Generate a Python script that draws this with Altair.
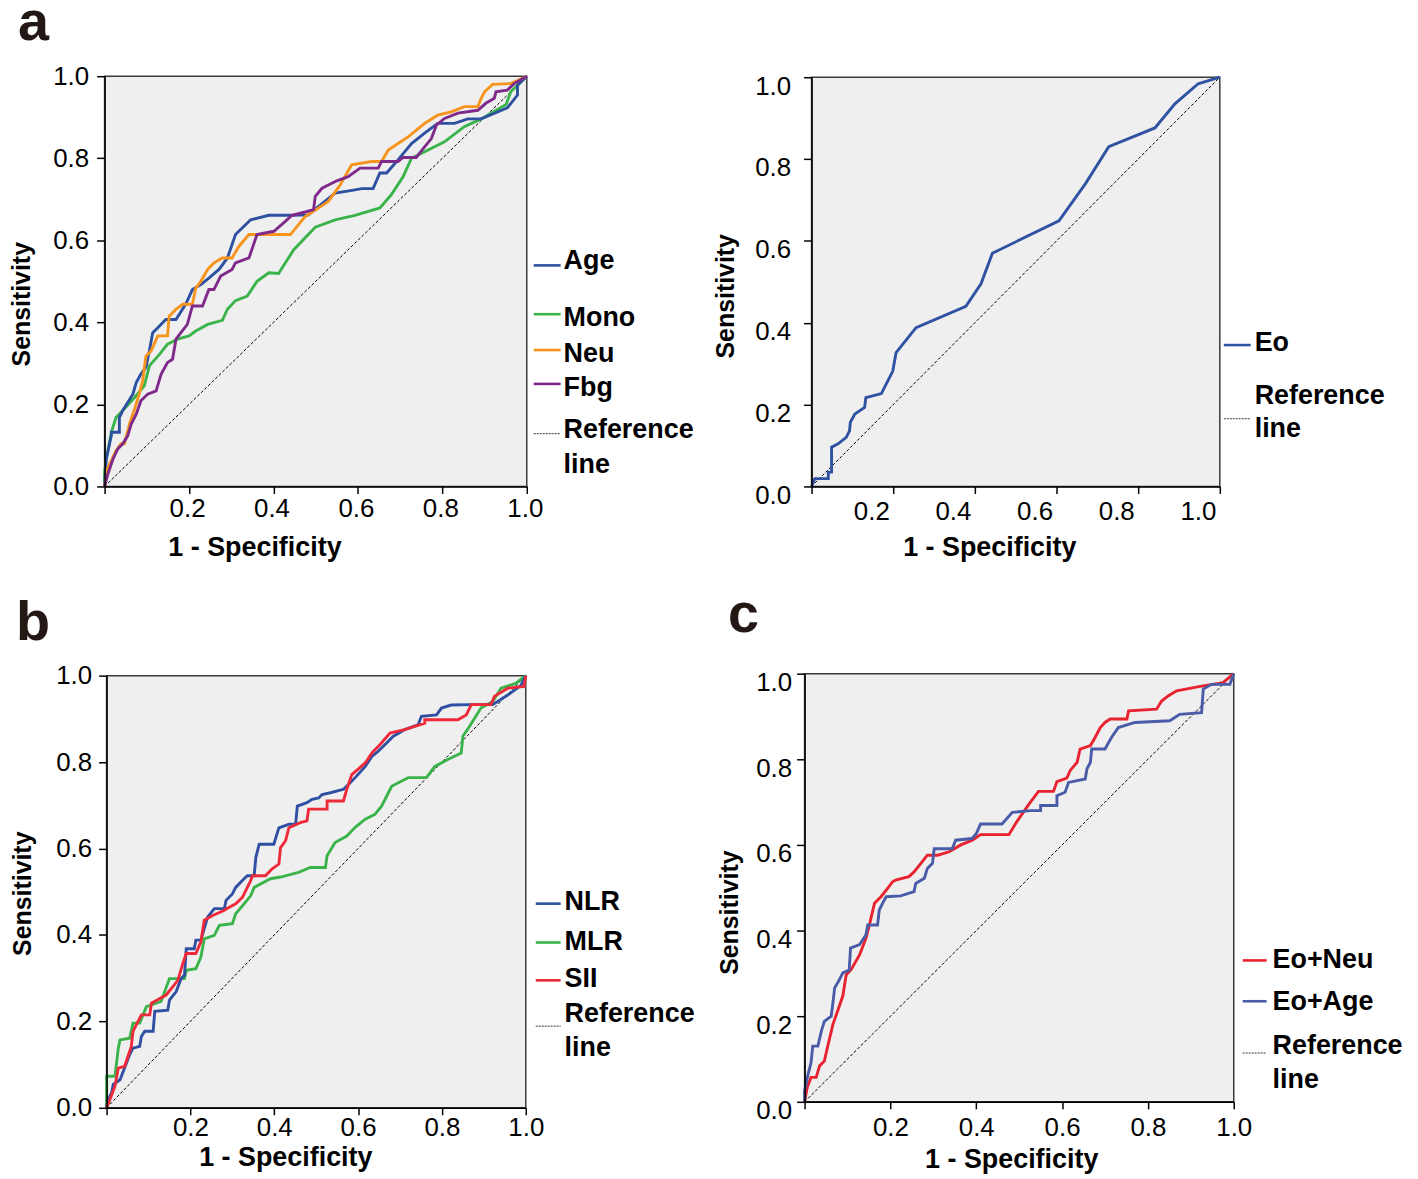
import altair as alt
import pandas as pd

# ---------------- data: (1 - specificity, sensitivity) ----------------
AGE = [(0, 0), (.004, .067), (.016, .124), (.016, .132), (.035, .132), (.035, .168), (.043, .185),
       (.067, .225), (.075, .253), (.086, .274), (.098, .29), (.106, .33), (.114, .375), (.126, .387),
       (.145, .407), (.169, .407), (.192, .444), (.208, .48), (.228, .492), (.247, .508), (.271, .529),
       (.291, .557), (.310, .614), (.346, .65), (.389, .661), (.444, .661), (.483, .662), (.507, .683),
       (.546, .715), (.593, .723), (.609, .726), (.636, .726), (.652, .764), (.668, .764), (.695, .796),
       (.727, .836), (.758, .861), (.789, .885), (.829, .885), (.860, .896), (.892, .896), (.954, .923),
       (.978, .954), (.978, .978), (1, 1)]
MONO = [(0, 0), (0, .035), (.004, .067), (.016, .132), (.027, .168), (.043, .185), (.071, .217),
        (.094, .245), (.106, .294), (.130, .322), (.149, .347), (.173, .359), (.2, .367), (.216, .379),
        (.244, .395), (.279, .405), (.291, .432), (.31, .453), (.338, .464), (.361, .5), (.389, .521),
        (.412, .519), (.448, .577), (.499, .632), (.546, .65), (.593, .661), (.652, .679), (.679, .711),
        (.707, .755), (.727, .8), (.758, .816), (.805, .84), (.852, .877), (.892, .896), (.951, .931),
        (.962, .962), (1, 1)]
NEU = [(0, 0), (.008, .047), (.016, .063), (.027, .087), (.039, .104), (.047, .104), (.059, .152),
       (.071, .189), (.082, .225), (.090, .257), (.098, .318), (.11, .33), (.126, .367), (.149, .367),
       (.153, .415), (.169, .432), (.185, .444), (.208, .444), (.216, .484), (.228, .5), (.244, .529),
       (.259, .545), (.279, .557), (.302, .557), (.318, .585), (.342, .614), (.381, .614), (.44, .614),
       (.456, .634), (.475, .658), (.507, .679), (.53, .695), (.558, .735), (.585, .784), (.633, .792),
       (.656, .792), (.672, .82), (.695, .836), (.719, .852), (.758, .885), (.789, .905), (.821, .913),
       (.852, .926), (.884, .926), (.892, .946), (.9, .962), (.919, .98), (.962, .982), (1, 1)]
FBG = [(0, 0), (.008, .031), (.02, .067), (.031, .091), (.043, .104), (.055, .124), (.063, .152),
       (.075, .176), (.086, .209), (.102, .225), (.122, .233), (.134, .274), (.149, .302), (.161, .31),
       (.169, .359), (.196, .395), (.208, .44), (.232, .44), (.247, .48), (.259, .48), (.275, .513),
       (.302, .529), (.31, .545), (.342, .557), (.361, .614), (.401, .622), (.428, .646), (.444, .661),
       (.475, .669), (.495, .675), (.499, .707), (.515, .727), (.55, .745), (.577, .755), (.605, .776),
       (.648, .776), (.656, .792), (.695, .792), (.707, .802), (.738, .802), (.758, .828), (.774, .848),
       (.786, .881), (.805, .897), (.837, .91), (.884, .917), (.903, .934), (.923, .946), (.927, .962),
       (.954, .966), (.970, .982), (1, 1)]
EO = [(0, 0), (.008, .019), (.041, .019), (.041, .035), (.049, .035), (.049, .096), (.065, .104),
      (.085, .12), (.093, .136), (.095, .157), (.106, .177), (.13, .193), (.133, .217), (.171, .227),
      (.199, .282), (.207, .327), (.256, .388), (.378, .44), (.415, .495), (.443, .57), (.606, .649),
      (.671, .74), (.728, .83), (.841, .876), (.89, .935), (.947, .984), (1, 1)]
NLR = [(0, 0), (.004, .019), (.012, .035), (.016, .054), (.032, .065), (.043, .092), (.055, .123),
       (.063, .138), (.079, .142), (.083, .165), (.091, .177), (.111, .177), (.115, .223), (.146, .226),
       (.150, .249), (.166, .269), (.178, .299), (.186, .307), (.190, .368), (.209, .368), (.213, .388),
       (.225, .388), (.241, .441), (.257, .461), (.281, .461), (.285, .48), (.300, .495), (.308, .51),
       (.328, .53), (.336, .537), (.352, .537), (.356, .579), (.364, .61), (.399, .61), (.411, .648),
       (.435, .656), (.451, .656), (.455, .698), (.478, .706), (.490, .714), (.506, .717), (.514, .725),
       (.534, .729), (.565, .737), (.577, .748), (.593, .764), (.617, .79), (.633, .813), (.648, .825),
       (.668, .844), (.684, .86), (.711, .875), (.743, .886), (.751, .906), (.787, .909), (.799, .925),
       (.822, .932), (.870, .933), (.921, .933), (.957, .955), (.988, .977), (1, 1)]
MLR = [(0, 0), (0, .073), (.02, .073), (.028, .138), (.032, .157), (.055, .161), (.063, .196),
       (.079, .196), (.095, .234), (.130, .246), (.150, .299), (.186, .299), (.190, .318), (.213, .322),
       (.225, .349), (.233, .391), (.257, .399), (.269, .422), (.3, .426), (.308, .449), (.328, .472),
       (.344, .491), (.352, .510), (.391, .530), (.415, .534), (.458, .545), (.486, .556), (.522, .556),
       (.526, .583), (.545, .614), (.573, .629), (.593, .649), (.617, .668), (.640, .679), (.656, .698),
       (.680, .744), (.704, .756), (.720, .764), (.763, .764), (.783, .790), (.814, .806), (.846, .821),
       (.850, .86), (.866, .883), (.893, .925), (.921, .94), (.941, .971), (.976, .982), (1, 1)]
SII = [(0, 0), (.008, .019), (.02, .05), (.028, .092), (.043, .096), (.059, .142), (.063, .177),
       (.083, .215), (.103, .215), (.107, .242), (.142, .261), (.170, .295), (.182, .334), (.19, .357),
       (.213, .357), (.225, .384), (.233, .434), (.253, .445), (.281, .457), (.285, .46), (.308, .472),
       (.324, .487), (.344, .526), (.348, .537), (.379, .537), (.395, .553), (.411, .564), (.415, .602),
       (.427, .618), (.435, .648), (.462, .66), (.478, .664), (.482, .691), (.526, .691), (.526, .71),
       (.565, .71), (.573, .737), (.585, .771), (.617, .798), (.633, .821), (.652, .840), (.676, .867),
       (.711, .875), (.759, .890), (.759, .898), (.838, .898), (.858, .909), (.870, .933), (.917, .933),
       (.925, .952), (.957, .971), (.996, .975), (1, 1)]
EO_NEU = [(0, 0), (.006, .033), (.015, .057), (.027, .057), (.035, .084), (.046, .095), (.054, .13),
          (.066, .181), (.077, .212), (.089, .247), (.097, .297), (.108, .308), (.128, .343), (.143, .382),
          (.15, .409), (.163, .464), (.178, .479), (.193, .498), (.205, .514), (.212, .518), (.243, .526),
          (.255, .537), (.271, .557), (.286, .576), (.31, .576), (.337, .584), (.364, .6), (.391, .611),
          (.410, .624), (.476, .624), (.495, .655), (.522, .694), (.545, .725), (.580, .725), (.588, .748),
          (.611, .756), (.619, .774), (.635, .793), (.642, .824), (.666, .832), (.677, .851), (.689, .874),
          (.700, .886), (.712, .894), (.751, .894), (.755, .913), (.820, .917), (.832, .936), (.847, .948),
          (.867, .960), (.925, .971), (.975, .979), (1, 1)]
EO_AGE = [(0, 0), (0, .026), (.008, .064), (.015, .091), (.019, .13), (.031, .13), (.039, .165),
          (.046, .188), (.062, .2), (.066, .231), (.070, .266), (.081, .285), (.089, .301), (.104, .308),
          (.107, .359), (.128, .367), (.143, .39), (.147, .413), (.170, .413), (.174, .448), (.182, .464),
          (.19, .479), (.224, .481), (.255, .491), (.259, .51), (.279, .522), (.286, .545), (.298, .557),
          (.302, .591), (.344, .591), (.352, .611), (.39, .615), (.4, .626), (.410, .649), (.46, .649),
          (.484, .676), (.526, .68), (.55, .68), (.55, .692), (.588, .692), (.588, .715), (.607, .723),
          (.615, .746), (.654, .754), (.658, .778), (.666, .793), (.669, .824), (.7, .824), (.715, .851),
          (.731, .874), (.770, .886), (.851, .89), (.874, .905), (.925, .909), (.929, .964), (.948, .975),
          (.991, .975), (1, 1)]
TICKS = [0.0, 0.2, 0.4, 0.6, 0.8, 1.0]

# ---------------- layout / style ----------------
W, H = 1408, 1170
FONT = "Liberation Sans"
DUMMY = pd.DataFrame({"d": [0]})
LW = 2.9


def scales(xr, yr):
    return (alt.Scale(domain=[0, 1], range=xr, nice=False, zero=False),
            alt.Scale(domain=[0, 1], range=yr, nice=False, zero=False))


def frame_layer(xr, yr, xpad, xoff, ypad, yoff):
    xs, ys = scales(xr, yr)
    xaxis = alt.Axis(orient="bottom", offset=yr[0] - H, values=TICKS, title=None,
                     labelExpr="datum.value == 0 ? '' : format(datum.value, '.1f')",
                     tickSize=7, labelPadding=xpad, labelOffset=xoff, zindex=1)
    yaxis = alt.Axis(orient="left", offset=-xr[0], values=TICKS, title=None, format=".1f",
                     tickSize=8, labelPadding=ypad, labelOffset=yoff, zindex=1)
    df = pd.DataFrame({"x0": [0.0], "x1": [1.0], "y0": [0.0], "y1": [1.0]})
    return alt.Chart(df).mark_rect(fill="#efefef", stroke="#3a3a3a", strokeWidth=1.5).encode(
        x=alt.X("x0:Q", scale=xs, axis=xaxis), x2="x1:Q",
        y=alt.Y("y0:Q", scale=ys, axis=yaxis), y2="y1:Q")


def curve(points, color, xr, yr, width=LW, dash=None):
    xs, ys = scales(xr, yr)
    df = pd.DataFrame({"fpr": [p[0] for p in points], "tpr": [p[1] for p in points],
                       "i": list(range(len(points)))})
    kw = dict(color=color, strokeWidth=width, clip=False)
    if dash:
        kw["strokeDash"] = dash
    return alt.Chart(df).mark_line(**kw).encode(
        x=alt.X("fpr:Q", scale=xs, axis=None),
        y=alt.Y("tpr:Q", scale=ys, axis=None),
        order="i:Q")


def text(s, x, y, size=27, angle=0, align="left", baseline="middle", color="black"):
    kw = dict(text=s, fontSize=size, fontWeight="bold", font=FONT, align=align,
              baseline=baseline, color=color)
    if angle:
        kw["angle"] = angle
    return alt.Chart(DUMMY).mark_text(**kw).encode(x=alt.value(x), y=alt.value(y))


def seg(x1, x2, y, color, dashed=False):
    kw = dict(color=color, strokeWidth=1 if dashed else 2.6)
    if dashed:
        kw["strokeDash"] = [2, 1]
    return alt.Chart(DUMMY).mark_rule(**kw).encode(
        x=alt.value(x1), x2=alt.value(x2), y=alt.value(y))


DIAG = [(0, 0), (1, 1)]
layers = []

# ---- panel a (left) ----
xr, yr = [97, 521], [478, 66]
layers += [frame_layer(xr, yr, 2, -2, 8, 0),
           curve(DIAG, "black", xr, yr, 1, [3, 2]),
           curve(MONO, "#3ab44a", xr, yr), curve(AGE, "#2d50a0", xr, yr),
           curve(NEU, "#f7941d", xr, yr), curve(FBG, "#7f2a8a", xr, yr)]
layers += [text("a", 10, 30, 56, color="#231815", baseline="alphabetic"),
           text("1 - Specificity", 248, 540, align="center"),
           text("Sensitivity", 14, 295, 25, angle=270, align="center"),
           seg(528, 555, 256, "#2d50a0"), text("Age", 558, 252),
           seg(528, 555, 305, "#3ab44a"), text("Mono", 558, 309),
           seg(528, 555, 341, "#f7941d"), text("Neu", 558, 345),
           seg(528, 555, 375, "#7f2a8a"), text("Fbg", 558, 379),
           seg(528, 555, 425, "#333333", True), text("Reference", 558, 421), text("line", 558, 456)]

# ---- panel a (right) ----
xr, yr = [807, 1217], [478, 67]
layers += [frame_layer(xr, yr, 5, -22, 13, 9),
           curve(DIAG, "black", xr, yr, 1, [3, 2]),
           curve(EO, "#2f52a2", xr, yr)]
layers += [text("1 - Specificity", 986, 540, align="center"),
           text("Sensitivity", 721, 287, 25, angle=270, align="center"),
           seg(1221, 1248, 336, "#2f52a2"), text("Eo", 1252, 334),
           seg(1221, 1248, 410, "#333333", True), text("Reference", 1252, 387), text("line", 1252, 420)]

# ---- panel b ----
xr, yr = [99, 520], [1102, 668]
layers += [frame_layer(xr, yr, 0, 0, 7, 0),
           curve(DIAG, "black", xr, yr, 1, [3, 2]),
           curve(MLR, "#3ab44a", xr, yr), curve(NLR, "#2f4fa2", xr, yr),
           curve(SII, "#ee2a3a", xr, yr)]
layers += [text("b", 8, 632, 56, color="#231815", baseline="alphabetic"),
           text("1 - Specificity", 279, 1152, align="center"),
           text("Sensitivity", 15, 887, 25, angle=270, align="center"),
           seg(530, 555, 897, "#2f4fa2"), text("NLR", 559, 895),
           seg(530, 555, 936, "#3ab44a"), text("MLR", 559, 936),
           seg(530, 555, 974, "#ee2a3a"), text("SII", 559, 973),
           seg(530, 555, 1020, "#333333", True), text("Reference", 559, 1008), text("line", 559, 1042)]

# ---- panel c ----
xr, yr = [800, 1231], [1096, 666]
layers += [frame_layer(xr, yr, 6, 0, 5, 9),
           curve(DIAG, "black", xr, yr, 1, [3, 2]),
           curve(EO_NEU, "#e8222f", xr, yr), curve(EO_AGE, "#4a5ba8", xr, yr)]
layers += [text("c", 723, 624, 56, color="#231815", baseline="alphabetic"),
           text("1 - Specificity", 1008, 1154, align="center"),
           text("Sensitivity", 725, 906, 25, angle=270, align="center"),
           seg(1240, 1264, 954, "#e8222f"), text("Eo+Neu", 1270, 954),
           seg(1240, 1264, 995, "#4a5ba8"), text("Eo+Age", 1270, 996),
           seg(1240, 1264, 1047, "#333333", True), text("Reference", 1270, 1040), text("line", 1270, 1074)]

chart = alt.layer(*layers).resolve_scale(
    x="independent", y="independent"
).properties(
    width=W, height=H, padding=0, autosize="none", background="white"
).configure_view(
    stroke=None
).configure_axis(
    domainColor="black", domainWidth=1.5, tickColor="black", tickWidth=1.5,
    labelFont=FONT, labelFontSize=26, labelColor="black", grid=False,
    labelFlush=False, labelOverlap=False
)

chart.save("out.html", embed_options={"renderer": "svg", "actions": False})
